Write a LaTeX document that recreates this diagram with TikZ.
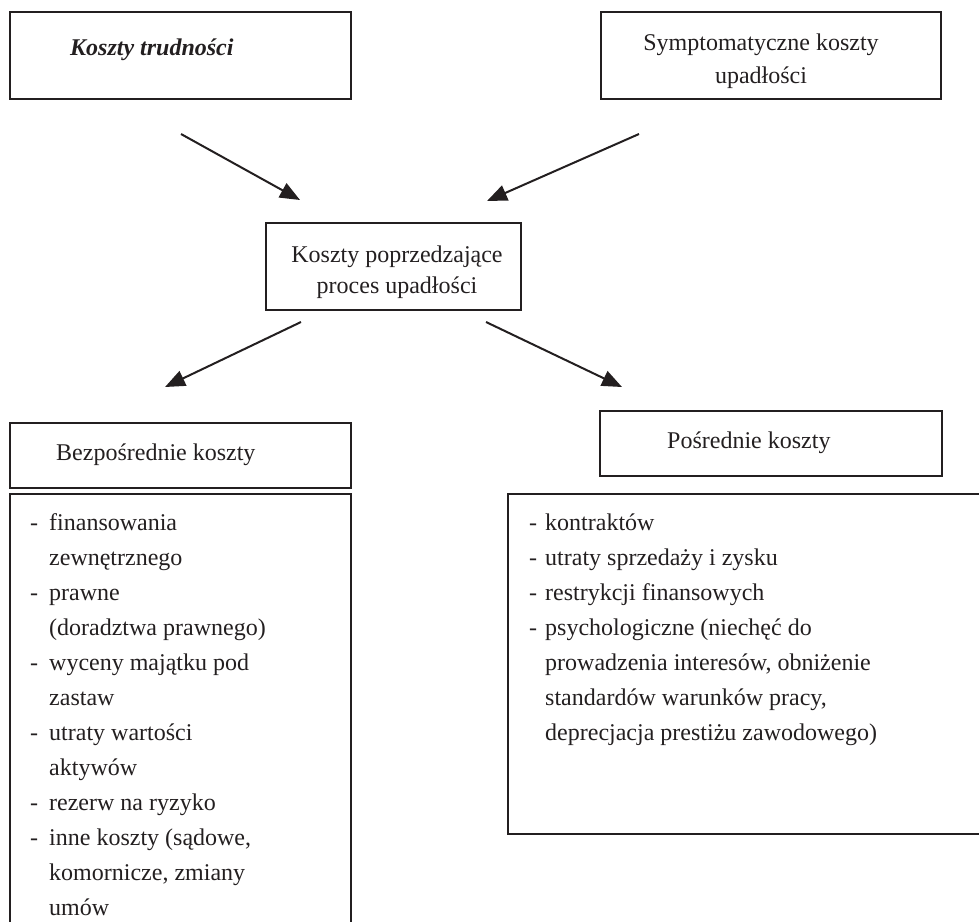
\documentclass[tikz,border=0pt]{standalone}
\usepackage{fontspec}
\setmainfont{Liberation Serif}
\usetikzlibrary{arrows.meta}
\definecolor{ink}{HTML}{231F20}
% dash column of the cost lists
\newcommand\itemdash{\makebox[19pt][l]{-}}
\newcommand\itemcont{\hspace*{19pt}}
\begin{document}
\begin{tikzpicture}[x=1pt,y=-1pt,
  frame/.style={draw=ink,line width=1.9pt},
  label/.style={inner sep=0pt,text=ink},
  flow/.style={draw=ink,line width=2pt,-{Triangle[length=20pt,width=16pt]}}]
\useasboundingbox (0,0) rectangle (979,921);
\clip (0,0) rectangle (979,921);

% boxes
\draw[frame] (10,12) rectangle (351,99);
\draw[frame] (601,12) rectangle (941,99);
\draw[frame] (266,223) rectangle (521,310);
\draw[frame] (10,423) rectangle (351,488);
\draw[frame] (600,411) rectangle (942,476);
\draw[frame] (10,940) -- (10,494) -- (351,494) -- (351,940);
\draw[frame] (995,494) -- (508,494) -- (508,834) -- (995,834);

% box texts
\node[label,anchor=base west,font=\fontsize{24}{33}\selectfont\bfseries\itshape] (trud) at (70,55) {Koszty trudności};
\node[label,anchor=base,font=\fontsize{24}{33}\selectfont] (symp) at (761,50)
  {\begin{tabular}[t]{@{}c@{}}Symptomatyczne koszty\\upadłości\end{tabular}};
\node[label,anchor=base,font=\fontsize{24}{31}\selectfont] (prec) at (397,262)
  {\begin{tabular}[t]{@{}c@{}}Koszty poprzedzające\\proces upadłości\end{tabular}};
\node[label,anchor=base west,font=\fontsize{24}{33}\selectfont] (bezp) at (56,460) {Bezpośrednie koszty};
\node[label,anchor=base west,font=\fontsize{24}{33}\selectfont] (posr) at (667,448) {Pośrednie koszty};

% cost lists
\node[label,anchor=base west,font=\fontsize{24}{35}\selectfont] (bezplist) at (30,530)
  {\begin{tabular}[t]{@{}l@{}}
   \itemdash finansowania\\
   \itemcont zewnętrznego\\
   \itemdash prawne\\
   \itemcont (doradztwa prawnego)\\
   \itemdash wyceny majątku pod\\
   \itemcont zastaw\\
   \itemdash utraty wartości\\
   \itemcont aktywów\\
   \itemdash rezerw na ryzyko\\
   \itemdash inne koszty (sądowe,\\
   \itemcont komornicze, zmiany\\
   \itemcont umów
   \end{tabular}};
\node[label,anchor=base west,font=\fontsize{24}{35}\selectfont] (posrlist) at (529,530)
  {\begin{tabular}[t]{@{}l@{}}
   \makebox[16pt][l]{-}kontraktów\\
   \makebox[16pt][l]{-}utraty sprzedaży i zysku\\
   \makebox[16pt][l]{-}restrykcji finansowych\\
   \makebox[16pt][l]{-}psychologiczne (niechęć do\\
   \hspace*{16pt}prowadzenia interesów, obniżenie\\
   \hspace*{16pt}standardów warunków pracy,\\
   \hspace*{16pt}deprecjacja prestiżu zawodowego)
   \end{tabular}};

% arrow end points
\coordinate (a1s) at (181,134); \coordinate (a1e) at (300,200);
\coordinate (a2s) at (639,134); \coordinate (a2e) at (487,201);
\coordinate (a3s) at (301,322); \coordinate (a3e) at (165,387);
\coordinate (a4s) at (486,322); \coordinate (a4e) at (622,387);

\draw[flow] (a1s) -- (a1e);
\draw[flow] (a2s) -- (a2e);
\draw[flow] (a3s) -- (a3e);
\draw[flow] (a4s) -- (a4e);
\end{tikzpicture}
\end{document}
